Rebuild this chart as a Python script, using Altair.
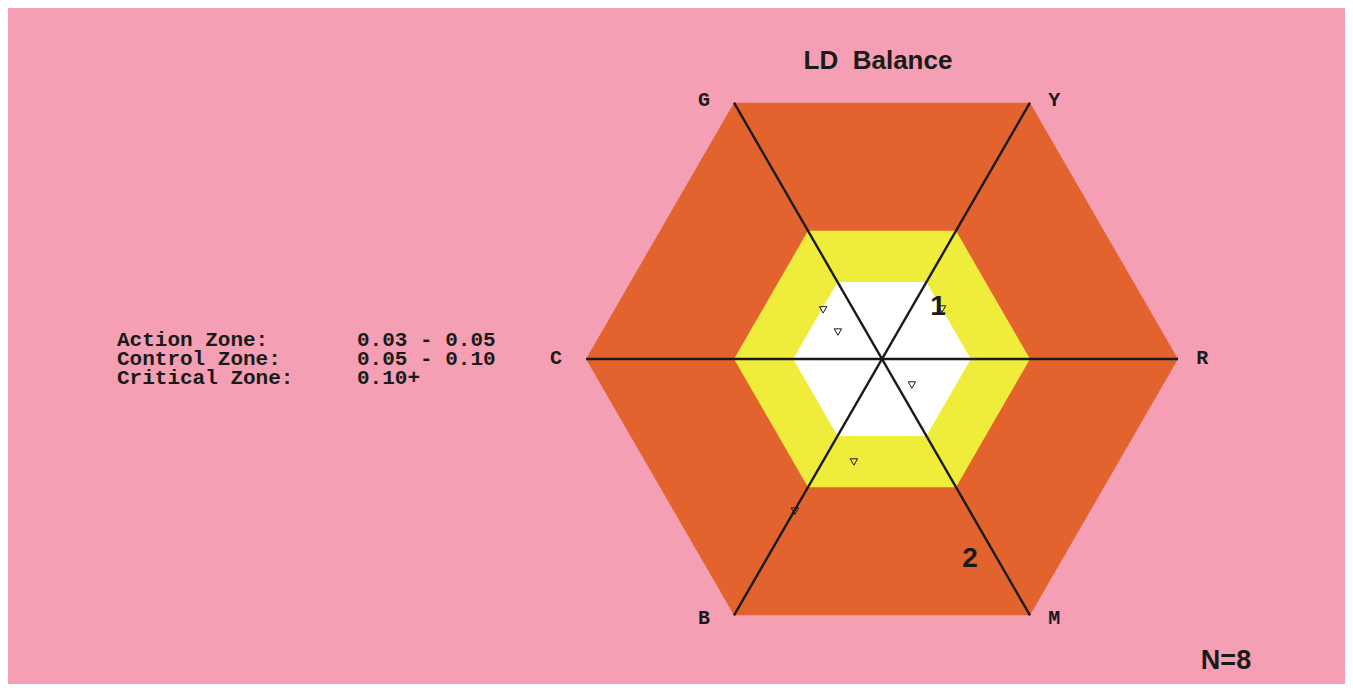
import altair as alt
import pandas as pd
import numpy as np

# ---------------- data ----------------
zone_names = ["Critical", "Control", "Action"]
zone_radius = [0.10, 0.05, 0.03]
zone_colors = ["#E2632D", "#F0EC3B", "#FFFFFF"]

vertex_labels = ["R", "Y", "G", "C", "B", "M"]
vertex_angles = [0, 60, 120, 180, 240, 300]

tri_x = [-0.0199, -0.0149, 0.0203, 0.0101, -0.0095, -0.0294]
tri_y = [0.0166, 0.0091, 0.0169, -0.0088, -0.0348, -0.0514]

note_text = ["1", "2"]
note_x = [0.0189, 0.0297]
note_y = [0.0176, -0.0674]

legend_names = ["Action Zone:", "Control Zone:", "Critical Zone:"]
legend_ranges = ["0.03 - 0.05", "0.05 - 0.10", "0.10+"]
n_samples = 8
title_text = "LD\u00a0\u00a0Balance"

# ---------------- layout ----------------
W, H = 1337, 676
PX = 2960.0          # pixels per data unit
CX, CY = 874, 351    # centre of hexagon in chart pixels
xs = alt.Scale(domain=[-CX / PX, (W - CX) / PX], nice=False, zero=False)
ys = alt.Scale(domain=[-(H - CY) / PX, CY / PX], nice=False, zero=False)
noax = dict(axis=None)

MONO = "Liberation Mono, Courier New, monospace"
SANS = "Liberation Sans, Arial, sans-serif"

layers = []
# hexagon zones (outer first)
for name, r, col in zip(zone_names, zone_radius, zone_colors):
    h = r * np.sqrt(3) / 2
    df = pd.DataFrame({
        "x": [-r, -r / 2, r / 2, r],
        "top": [0, h, h, 0],
        "bot": [0, -h, -h, 0],
    })
    layers.append(
        alt.Chart(df).mark_area(color=col, opacity=1, interpolate="linear").encode(
            x=alt.X("x:Q", scale=xs, **noax),
            y=alt.Y("top:Q", scale=ys, **noax),
            y2="bot:Q",
        )
    )

# spokes
R = max(zone_radius)
sp = pd.DataFrame({"a": [0, 60, 120]})
sp["x"] = R * np.cos(np.radians(sp["a"]))
sp["y"] = R * np.sin(np.radians(sp["a"]))
sp["x2"] = -sp["x"]
sp["y2"] = -sp["y"]
layers.append(
    alt.Chart(sp).mark_rule(color="#1A1A1A", strokeWidth=2.4).encode(
        x=alt.X("x:Q", scale=xs, **noax), y=alt.Y("y:Q", scale=ys, **noax),
        x2="x2:Q", y2="y2:Q",
    )
)

# vertex labels
vl = pd.DataFrame({"label": vertex_labels, "a": vertex_angles})
vx = R * np.cos(np.radians(vl["a"]))
vy = R * np.sin(np.radians(vl["a"]))
vl["x"] = vx + np.where(vx > 1e-9, 0.0082, -0.0101)
vl["y"] = vy + np.where(np.abs(vy) > 1e-9, 0.001 * np.sign(vy), 0.0003)
layers.append(
    alt.Chart(vl).mark_text(font=MONO, fontWeight="bold", fontSize=20,
                            color="#1A1A1A", baseline="middle", align="center").encode(
        x=alt.X("x:Q", scale=xs, **noax), y=alt.Y("y:Q", scale=ys, **noax), text="label:N",
    )
)

# triangle samples
tr = pd.DataFrame({"x": tri_x, "y": tri_y})
layers.append(
    alt.Chart(tr).mark_point(shape="triangle-down", filled=False, color="#1A1A1A",
                             size=55, strokeWidth=1, opacity=1).encode(
        x=alt.X("x:Q", scale=xs, **noax), y=alt.Y("y:Q", scale=ys, **noax),
    )
)

# numeric notes
nt = pd.DataFrame({"t": note_text, "x": note_x, "y": note_y})
layers.append(
    alt.Chart(nt).mark_text(font=SANS, fontWeight="bold", fontSize=28,
                            color="#1A1A1A", baseline="middle", align="center").encode(
        x=alt.X("x:Q", scale=xs, **noax), y=alt.Y("y:Q", scale=ys, **noax), text="t:N",
    )
)

# zone legend text (two columns)
lg = pd.DataFrame({"name": legend_names, "rng": legend_ranges,
                   "py": [338 + 19 * i for i in range(len(legend_names))]})
for col, px in (("name", 109), ("rng", 349)):
    layers.append(
        alt.Chart(lg).mark_text(font=MONO, fontWeight="bold", fontSize=21,
                                color="#1A1A1A", align="left", baseline="alphabetic").encode(
            x=alt.value(px), y=alt.Y("py:Q", scale=None), text=f"{col}:N",
        )
    )

# title
layers.append(
    alt.Chart(pd.DataFrame({"t": [title_text]})).mark_text(
        font=SANS, fontWeight="bold", fontSize=26,
        color="#1A1A1A", align="center", baseline="alphabetic").encode(
        x=alt.value(870), y=alt.value(61), text="t:N")
)

# N label
layers.append(
    alt.Chart(pd.DataFrame({"t": [f"N={n_samples}"]})).mark_text(
        font=SANS, fontWeight="bold", fontSize=27,
        color="#1A1A1A", align="center", baseline="alphabetic").encode(
        x=alt.value(1218), y=alt.value(661), text="t:N")
)

chart = alt.layer(*layers).properties(
    width=W, height=H, padding=0, background="#F49FB3",
    autosize=alt.AutoSizeParams(type="fit", contains="padding"),
).configure_view(stroke=None)

chart.save("out.html", embed_options={"renderer": "svg", "actions": False})
